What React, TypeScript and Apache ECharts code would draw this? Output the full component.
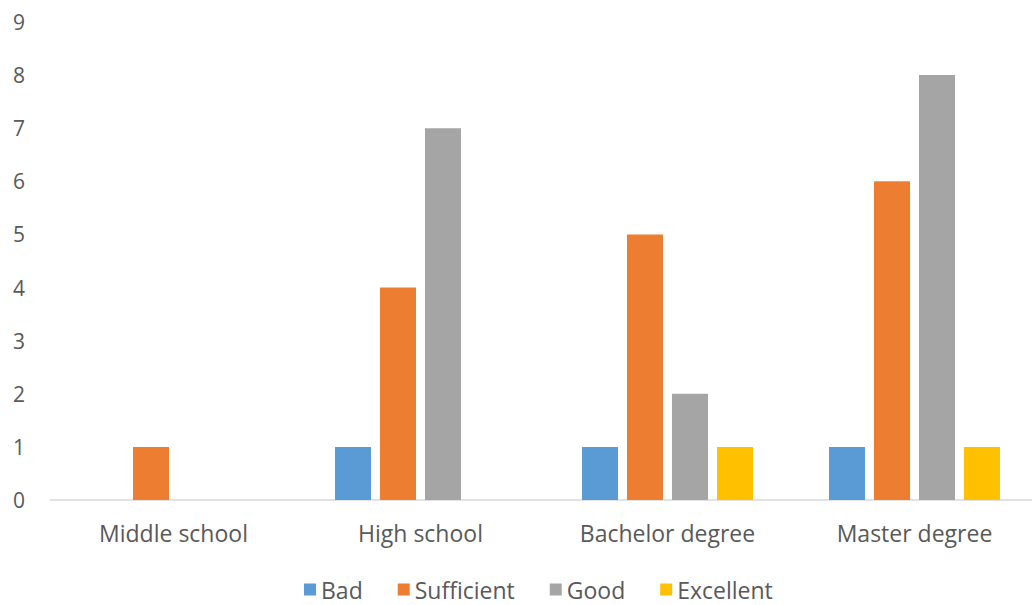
import React, { useEffect, useRef } from "react";
import * as echarts from "echarts";

const categories = ["Middle school", "High school", "Bachelor degree", "Master degree"];
const bad = [null, 1, 1, 1];
const sufficient = [1, 4, 5, 6];
const good = [null, 7, 2, 8];
const excellent = [null, null, 1, 1];
const yTicks = { min: 0, max: 9, interval: 1 };

const FONT = "'Open Sans', 'Noto Sans', sans-serif";
const TEXT = "#595959";

export default function App() {
  const ref = useRef<HTMLDivElement>(null);

  useEffect(() => {
    if (!ref.current) return;
    const chart = echarts.init(ref.current, undefined, { renderer: "svg" });
    const mk = (name: string, data: (number | null)[], color: string) => ({
      name,
      type: "bar",
      data,
      barWidth: 36,
      barGap: "25%",
      itemStyle: { color },
    });
    chart.setOption({
      animation: false,
      textStyle: { fontFamily: FONT },
      // plot area runs slightly past the visible right edge
      grid: { left: 50, top: 22, bottom: 105, right: 2 },
      legend: {
        bottom: -1,
        left: 299,
        itemWidth: 12,
        itemHeight: 12,
        itemGap: 35,
        itemTextGap: 7,
        icon: "rect",
        textStyle: { color: TEXT, fontSize: 23, fontFamily: FONT },
      },
      xAxis: {
        type: "category",
        data: categories,
        axisLine: { lineStyle: { color: "#d9d9d9", width: 1.5 } },
        axisTick: { show: false },
        axisLabel: { color: TEXT, fontSize: 23, margin: 21, fontFamily: FONT },
      },
      yAxis: {
        type: "value",
        ...yTicks,
        splitLine: { show: false },
        axisLine: { show: false },
        axisTick: { show: false },
        axisLabel: { color: TEXT, fontSize: 21, margin: 25, fontFamily: FONT },
      },
      series: [
        mk("Bad", bad, "#5B9BD5"),
        mk("Sufficient", sufficient, "#ED7D31"),
        mk("Good", good, "#A5A5A5"),
        mk("Excellent", excellent, "#FFC000"),
      ],
    });
    return () => chart.dispose();
  }, []);

  return (
    <div
      style={{ position: "absolute", left: 0, top: 0, width: 1032, height: 605, overflow: "hidden", background: "#fff" }}
    >
      <div ref={ref} style={{ width: 1040, height: 605 }} />
    </div>
  );
}
